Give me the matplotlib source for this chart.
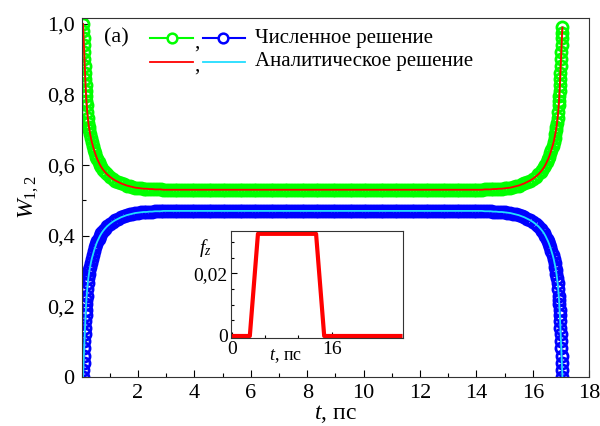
import matplotlib
matplotlib.use('Agg')
import matplotlib.pyplot as plt
from matplotlib.ticker import MultipleLocator, FuncFormatter

plt.rcParams['font.family'] = ['Liberation Serif', 'DejaVu Serif']
plt.rcParams['mathtext.fontset'] = 'custom'
plt.rcParams['mathtext.rm'] = 'Liberation Serif'
plt.rcParams['mathtext.it'] = 'Liberation Serif:italic'

# ---- data ----
# start of the evolution (fine steps)
t_left = [0.05, 0.06, 0.07, 0.08, 0.09, 0.10, 0.11, 0.12, 0.13, 0.14,
          0.15, 0.16, 0.17, 0.18, 0.20, 0.22, 0.24, 0.26, 0.28, 0.30,
          0.33, 0.36, 0.40, 0.44, 0.48, 0.52, 0.56, 0.60, 0.65, 0.70,
          0.76, 0.82, 0.90]
w1_left = [1.000, 0.980, 0.960, 0.940, 0.920, 0.900, 0.880, 0.861, 0.843, 0.826,
           0.810, 0.795, 0.782, 0.770, 0.750, 0.734, 0.720, 0.708, 0.698, 0.689,
           0.677, 0.666, 0.654, 0.643, 0.633, 0.624, 0.616, 0.609, 0.601, 0.594,
           0.587, 0.581, 0.574]
w2_left = [0.000, 0.020, 0.040, 0.060, 0.080, 0.100, 0.120, 0.139, 0.157, 0.174,
           0.190, 0.205, 0.218, 0.230, 0.250, 0.266, 0.280, 0.292, 0.302, 0.311,
           0.323, 0.334, 0.346, 0.357, 0.367, 0.376, 0.384, 0.391, 0.399, 0.406,
           0.413, 0.419, 0.426]

# middle part (step 0.1 ps)
t_mid = [1.0, 1.1, 1.2, 1.3, 1.4, 1.5, 1.6, 1.7, 1.8, 1.9,
         2.0, 2.1, 2.2, 2.3, 2.4, 2.5, 2.6, 2.7, 2.8, 2.9,
         3.0, 3.1, 3.2, 3.3, 3.4, 3.5, 3.6, 3.7, 3.8, 3.9,
         4.0, 4.1, 4.2, 4.3, 4.4, 4.5, 4.6, 4.7, 4.8, 4.9,
         5.0, 5.1, 5.2, 5.3, 5.4, 5.5, 5.6, 5.7, 5.8, 5.9,
         6.0, 6.1, 6.2, 6.3, 6.4, 6.5, 6.6, 6.7, 6.8, 6.9,
         7.0, 7.1, 7.2, 7.3, 7.4, 7.5, 7.6, 7.7, 7.8, 7.9,
         8.0, 8.1, 8.2, 8.3, 8.4, 8.5, 8.6, 8.7, 8.8, 8.9,
         9.0, 9.1, 9.2, 9.3, 9.4, 9.5, 9.6, 9.7, 9.8, 9.9,
         10.0, 10.1, 10.2, 10.3, 10.4, 10.5, 10.6, 10.7, 10.8, 10.9,
         11.0, 11.1, 11.2, 11.3, 11.4, 11.5, 11.6, 11.7, 11.8, 11.9,
         12.0, 12.1, 12.2, 12.3, 12.4, 12.5, 12.6, 12.7, 12.8, 12.9,
         13.0, 13.1, 13.2, 13.3, 13.4, 13.5, 13.6, 13.7, 13.8, 13.9,
         14.0, 14.1, 14.2, 14.3, 14.4, 14.5, 14.6, 14.7, 14.8, 14.9,
         15.0, 15.1, 15.2, 15.3, 15.4, 15.5, 15.6, 15.7, 15.8, 15.9,
         16.0, 16.1]
w1_mid = [0.567, 0.561, 0.556, 0.552, 0.548, 0.545, 0.542, 0.540, 0.538, 0.536,
          0.535, 0.534, 0.533, 0.533, 0.532, 0.532, 0.531, 0.531, 0.531, 0.530,
          0.530, 0.530, 0.530, 0.530, 0.530, 0.530, 0.530, 0.530, 0.530, 0.530,
          0.530, 0.530, 0.530, 0.530, 0.530, 0.530, 0.530, 0.530, 0.530, 0.530,
          0.530, 0.530, 0.530, 0.530, 0.530, 0.530, 0.530, 0.530, 0.530, 0.530,
          0.530, 0.530, 0.530, 0.530, 0.530, 0.530, 0.530, 0.530, 0.530, 0.530,
          0.530, 0.530, 0.530, 0.530, 0.530, 0.530, 0.530, 0.530, 0.530, 0.530,
          0.530, 0.530, 0.530, 0.530, 0.530, 0.530, 0.530, 0.530, 0.530, 0.530,
          0.530, 0.530, 0.530, 0.530, 0.530, 0.530, 0.530, 0.530, 0.530, 0.530,
          0.530, 0.530, 0.530, 0.530, 0.530, 0.530, 0.530, 0.530, 0.530, 0.530,
          0.530, 0.530, 0.530, 0.530, 0.530, 0.530, 0.530, 0.530, 0.530, 0.530,
          0.530, 0.530, 0.530, 0.530, 0.530, 0.530, 0.530, 0.530, 0.530, 0.530,
          0.530, 0.530, 0.530, 0.530, 0.530, 0.530, 0.530, 0.530, 0.530, 0.530,
          0.530, 0.530, 0.530, 0.531, 0.531, 0.531, 0.532, 0.532, 0.533, 0.533,
          0.534, 0.535, 0.536, 0.538, 0.540, 0.542, 0.545, 0.548, 0.552, 0.556,
          0.561, 0.567]
w2_mid = [0.433, 0.439, 0.444, 0.448, 0.452, 0.455, 0.458, 0.460, 0.462, 0.464,
          0.465, 0.466, 0.467, 0.467, 0.468, 0.468, 0.469, 0.469, 0.469, 0.470,
          0.470, 0.470, 0.470, 0.470, 0.470, 0.470, 0.470, 0.470, 0.470, 0.470,
          0.470, 0.470, 0.470, 0.470, 0.470, 0.470, 0.470, 0.470, 0.470, 0.470,
          0.470, 0.470, 0.470, 0.470, 0.470, 0.470, 0.470, 0.470, 0.470, 0.470,
          0.470, 0.470, 0.470, 0.470, 0.470, 0.470, 0.470, 0.470, 0.470, 0.470,
          0.470, 0.470, 0.470, 0.470, 0.470, 0.470, 0.470, 0.470, 0.470, 0.470,
          0.470, 0.470, 0.470, 0.470, 0.470, 0.470, 0.470, 0.470, 0.470, 0.470,
          0.470, 0.470, 0.470, 0.470, 0.470, 0.470, 0.470, 0.470, 0.470, 0.470,
          0.470, 0.470, 0.470, 0.470, 0.470, 0.470, 0.470, 0.470, 0.470, 0.470,
          0.470, 0.470, 0.470, 0.470, 0.470, 0.470, 0.470, 0.470, 0.470, 0.470,
          0.470, 0.470, 0.470, 0.470, 0.470, 0.470, 0.470, 0.470, 0.470, 0.470,
          0.470, 0.470, 0.470, 0.470, 0.470, 0.470, 0.470, 0.470, 0.470, 0.470,
          0.470, 0.470, 0.470, 0.469, 0.469, 0.469, 0.468, 0.468, 0.467, 0.467,
          0.466, 0.465, 0.464, 0.462, 0.460, 0.458, 0.455, 0.452, 0.448, 0.444,
          0.439, 0.433]

# end of the evolution (fine steps)
t_right = [16.20, 16.28, 16.34, 16.40, 16.45, 16.50, 16.54, 16.58, 16.62, 16.66,
           16.70, 16.74, 16.77, 16.80, 16.82, 16.84, 16.86, 16.88, 16.90, 16.92,
           16.93, 16.94, 16.95, 16.96, 16.97, 16.98, 16.99, 17.00, 17.01, 17.02,
           17.03, 17.04, 17.05]
w1_right = [0.574, 0.581, 0.587, 0.594, 0.601, 0.609, 0.616, 0.624, 0.633, 0.643,
            0.654, 0.666, 0.677, 0.689, 0.698, 0.708, 0.720, 0.734, 0.750, 0.770,
            0.782, 0.795, 0.810, 0.826, 0.843, 0.861, 0.880, 0.900, 0.920, 0.940,
            0.960, 0.975, 0.990]
w2_right = [0.426, 0.419, 0.413, 0.406, 0.399, 0.391, 0.384, 0.376, 0.367, 0.357,
            0.346, 0.334, 0.323, 0.311, 0.302, 0.292, 0.280, 0.266, 0.250, 0.230,
            0.218, 0.205, 0.190, 0.174, 0.157, 0.139, 0.120, 0.100, 0.080, 0.060,
            0.040, 0.020, 0.000]

# inset: pulse f_z(t)
t_pulse = [0.0, 2.9, 4.2, 13.5, 14.8, 27.0]
f_pulse = [0.0, 0.0, 0.0326, 0.0326, 0.0, 0.0]

t_all = t_left + t_mid + t_right
w1_all = w1_left + w1_mid + w1_right
w2_all = w2_left + w2_mid + w2_right


def comma_fmt(nd):
    def f(v, pos):
        if abs(v) < 1e-12:
            return '0'
        return f'{v:.{nd}f}'.replace('.', ',')
    return FuncFormatter(f)


fig = plt.figure(figsize=(6, 4.26), dpi=100)
ax = fig.add_axes([0.136, 0.1157, 0.846, 0.8413])

mk = dict(marker='o', markersize=8, markeredgewidth=2.0, markerfacecolor='none', linestyle='-', linewidth=1.5)
ax.plot(t_all, w1_all, color='#00ff00', markeredgecolor='#00ff00', **mk)
ax.plot(t_all, w2_all, color='#0000ff', markeredgecolor='#0000ff', **mk)
ax.plot(t_all, w1_all, color='#ff0000', linewidth=1.3)
ax.plot(t_all, w2_all, color='#22ddff', linewidth=1.3)

ax.set_xlim(0, 18)
ax.set_ylim(0, 1.016)
ax.set_xticks([2, 4, 6, 8, 10, 12, 14, 16, 18])
ax.xaxis.set_minor_locator(MultipleLocator(1))
ax.yaxis.set_major_locator(MultipleLocator(0.2))
ax.yaxis.set_minor_locator(MultipleLocator(0.1))
ax.yaxis.set_major_formatter(comma_fmt(1))
ax.tick_params(which='both', direction='in', top=False, right=False, labelsize=16, pad=5)
ax.tick_params(which='major', length=5, width=0.8)
ax.tick_params(which='minor', length=3, width=0.8)
for s in ax.spines.values():
    s.set_linewidth(0.8)
    s.set_color('#333333')
ax.set_xlabel(r'$t$, пс', fontsize=17, labelpad=0)
ax.set_ylabel(r'$W_{1,2}$', fontsize=17, labelpad=4)

# legend (drawn by hand: two samples per row separated by a comma)
ax.text(0.044, 0.945, '(a)', transform=ax.transAxes, fontsize=16, va='center', ha='left')
r1, r2 = 0.944, 0.879
ax.plot([0.1346, 0.2193], [r1, r1], color='#00ff00', lw=1.5, transform=ax.transAxes)
ax.plot([0.1773], [r1], 'o', ms=7, mew=1.8, mfc='white', mec='#00ff00', transform=ax.transAxes)
ax.plot([0.2384, 0.3221], [r1, r1], color='#0000ff', lw=1.5, transform=ax.transAxes)
ax.plot([0.2784], [r1], 'o', ms=7, mew=1.8, mfc='white', mec='#0000ff', transform=ax.transAxes)
ax.plot([0.1346, 0.2193], [r2, r2], color='#ff0000', lw=1.3, transform=ax.transAxes)
ax.plot([0.2384, 0.3221], [r2, r2], color='#22ddff', lw=1.3, transform=ax.transAxes)
for ry in (r1, r2):
    ax.text(0.2225, ry - 0.012, ',', transform=ax.transAxes, fontsize=15, va='center', ha='left')
ax.text(0.3415, r1, 'Численное решение', transform=ax.transAxes, fontsize=15, va='center', ha='left')
ax.text(0.3415, r2, 'Аналитическое решение', transform=ax.transAxes, fontsize=15, va='center', ha='left')

# inset
ins = fig.add_axes([0.3845, 0.2059, 0.2877, 0.2518])
ins.plot(t_pulse, f_pulse, color='#ff0000', linewidth=3)
ins.set_xlim(-0.16, 27.46)
ins.set_ylim(-0.00073, 0.0335)
ins.set_xticks([0, 16])
ins.xaxis.set_minor_locator(MultipleLocator(16 / 3))
ins.set_yticks([0, 0.02])
ins.yaxis.set_minor_locator(MultipleLocator(0.005))
ins.yaxis.set_major_formatter(comma_fmt(2))
ins.tick_params(which='both', direction='in', top=False, right=False, labelsize=14, pad=2)
ins.tick_params(which='major', length=4, width=0.8)
ins.tick_params(which='minor', length=2.5, width=0.8)
for s in ins.spines.values():
    s.set_linewidth(0.8)
    s.set_color('#333333')
ins.text(0.32, -0.17, r'$t$, пс', transform=ins.transAxes, fontsize=13, ha='center', va='center')
ins.text(-0.15, 0.84, r'$f_z$', transform=ins.transAxes, fontsize=14, ha='center', va='center')

fig.savefig('out.png', dpi=100)
